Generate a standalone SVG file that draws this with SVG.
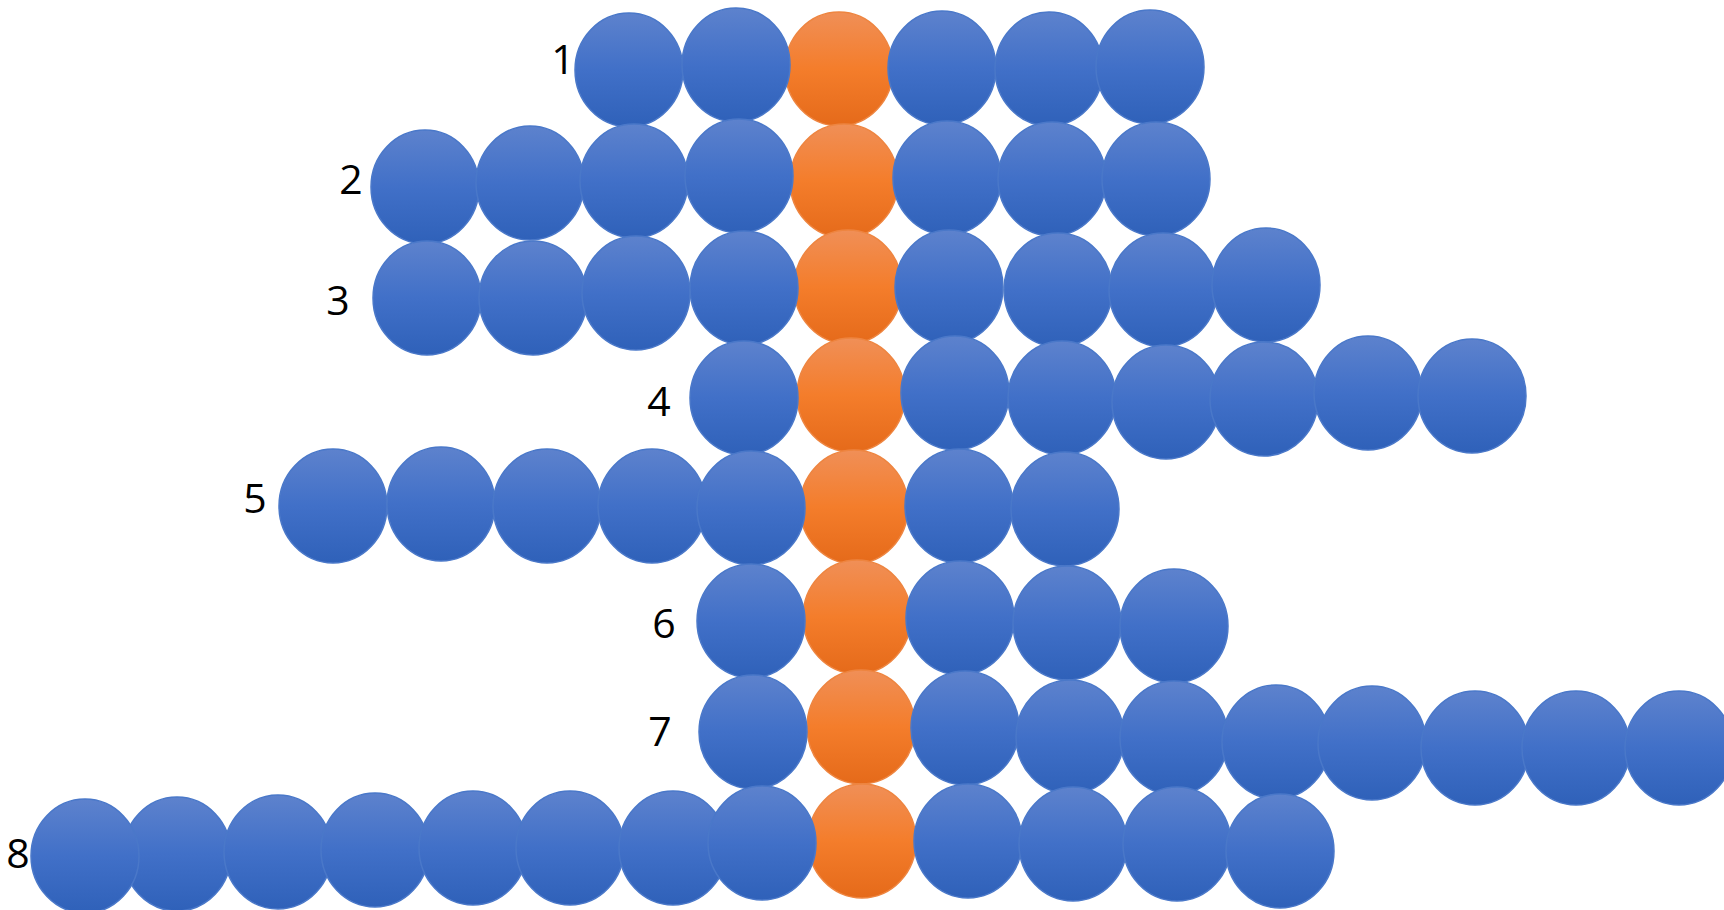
<svg xmlns="http://www.w3.org/2000/svg" width="1724" height="910" viewBox="0 0 1724 910">
<defs>
<linearGradient id="gb" x1="0" y1="0" x2="0" y2="1">
<stop offset="0" stop-color="#5d82cd"/>
<stop offset="0.5" stop-color="#4170c8"/>
<stop offset="1" stop-color="#2f61b9"/>
</linearGradient>
<linearGradient id="go" x1="0" y1="0" x2="0" y2="1">
<stop offset="0" stop-color="#f08f57"/>
<stop offset="0.5" stop-color="#f47d2b"/>
<stop offset="1" stop-color="#e56a1a"/>
</linearGradient>
</defs>
<style>
.b{fill:url(#gb);stroke:#4a78c9;stroke-width:1.5}
.o{fill:url(#go);stroke:#ee8540;stroke-width:1.5}
.t{font-family:"Open Sans","Liberation Sans",sans-serif;font-size:41px;fill:#000;text-anchor:middle}
</style>
<rect width="1724" height="910" fill="#fff"/>
<g id="row1">
<text class="t" x="563" y="74">1</text>
<ellipse class="o" cx="839" cy="69" rx="54" ry="57"/>
<ellipse class="b" cx="629" cy="70" rx="54" ry="57"/>
<ellipse class="b" cx="736" cy="65" rx="54" ry="57"/>
<ellipse class="b" cx="942" cy="68" rx="54" ry="57"/>
<ellipse class="b" cx="1049" cy="69" rx="54" ry="57"/>
<ellipse class="b" cx="1150" cy="67" rx="54" ry="57"/>
</g>
<g id="row2">
<text class="t" x="351" y="194">2</text>
<ellipse class="o" cx="844" cy="181" rx="54" ry="57"/>
<ellipse class="b" cx="425" cy="187" rx="54" ry="57"/>
<ellipse class="b" cx="530" cy="183" rx="54" ry="57"/>
<ellipse class="b" cx="634" cy="181" rx="54" ry="57"/>
<ellipse class="b" cx="739" cy="176" rx="54" ry="57"/>
<ellipse class="b" cx="947" cy="178" rx="54" ry="57"/>
<ellipse class="b" cx="1052" cy="179" rx="54" ry="57"/>
<ellipse class="b" cx="1156" cy="179" rx="54" ry="57"/>
</g>
<g id="row3">
<text class="t" x="338" y="315">3</text>
<ellipse class="o" cx="848" cy="287" rx="54" ry="57"/>
<ellipse class="b" cx="427" cy="298" rx="54" ry="57"/>
<ellipse class="b" cx="533" cy="298" rx="54" ry="57"/>
<ellipse class="b" cx="636" cy="293" rx="54" ry="57"/>
<ellipse class="b" cx="744" cy="288" rx="54" ry="57"/>
<ellipse class="b" cx="949" cy="287" rx="54" ry="57"/>
<ellipse class="b" cx="1058" cy="290" rx="54" ry="57"/>
<ellipse class="b" cx="1163" cy="290" rx="54" ry="57"/>
<ellipse class="b" cx="1266" cy="285" rx="54" ry="57"/>
</g>
<g id="row4">
<text class="t" x="659" y="416">4</text>
<ellipse class="o" cx="851" cy="395" rx="54" ry="57"/>
<ellipse class="b" cx="744" cy="398" rx="54" ry="57"/>
<ellipse class="b" cx="955" cy="393" rx="54" ry="57"/>
<ellipse class="b" cx="1062" cy="398" rx="54" ry="57"/>
<ellipse class="b" cx="1166" cy="402" rx="54" ry="57"/>
<ellipse class="b" cx="1264" cy="399" rx="54" ry="57"/>
<ellipse class="b" cx="1368" cy="393" rx="54" ry="57"/>
<ellipse class="b" cx="1472" cy="396" rx="54" ry="57"/>
</g>
<g id="row5">
<text class="t" x="255" y="513">5</text>
<ellipse class="o" cx="854" cy="507" rx="54" ry="57"/>
<ellipse class="b" cx="333" cy="506" rx="54" ry="57"/>
<ellipse class="b" cx="441" cy="504" rx="54" ry="57"/>
<ellipse class="b" cx="547" cy="506" rx="54" ry="57"/>
<ellipse class="b" cx="652" cy="506" rx="54" ry="57"/>
<ellipse class="b" cx="751" cy="508" rx="54" ry="57"/>
<ellipse class="b" cx="959" cy="506" rx="54" ry="57"/>
<ellipse class="b" cx="1065" cy="509" rx="54" ry="57"/>
</g>
<g id="row6">
<text class="t" x="664" y="638">6</text>
<ellipse class="o" cx="857" cy="617" rx="54" ry="57"/>
<ellipse class="b" cx="751" cy="621" rx="54" ry="57"/>
<ellipse class="b" cx="960" cy="618" rx="54" ry="57"/>
<ellipse class="b" cx="1067" cy="623" rx="54" ry="57"/>
<ellipse class="b" cx="1174" cy="626" rx="54" ry="57"/>
</g>
<g id="row7">
<text class="t" x="660" y="746">7</text>
<ellipse class="o" cx="861" cy="727" rx="54" ry="57"/>
<ellipse class="b" cx="753" cy="732" rx="54" ry="57"/>
<ellipse class="b" cx="965" cy="728" rx="54" ry="57"/>
<ellipse class="b" cx="1070" cy="737" rx="54" ry="57"/>
<ellipse class="b" cx="1174" cy="738" rx="54" ry="57"/>
<ellipse class="b" cx="1276" cy="742" rx="54" ry="57"/>
<ellipse class="b" cx="1372" cy="743" rx="54" ry="57"/>
<ellipse class="b" cx="1475" cy="748" rx="54" ry="57"/>
<ellipse class="b" cx="1576" cy="748" rx="54" ry="57"/>
<ellipse class="b" cx="1679" cy="748" rx="54" ry="57"/>
</g>
<g id="row8">
<text class="t" x="18" y="868">8</text>
<ellipse class="o" cx="862" cy="841" rx="54" ry="57"/>
<ellipse class="b" cx="177" cy="854" rx="54" ry="57"/>
<ellipse class="b" cx="85" cy="856" rx="54" ry="57"/>
<ellipse class="b" cx="278" cy="852" rx="54" ry="57"/>
<ellipse class="b" cx="375" cy="850" rx="54" ry="57"/>
<ellipse class="b" cx="473" cy="848" rx="54" ry="57"/>
<ellipse class="b" cx="570" cy="848" rx="54" ry="57"/>
<ellipse class="b" cx="673" cy="848" rx="54" ry="57"/>
<ellipse class="b" cx="762" cy="843" rx="54" ry="57"/>
<ellipse class="b" cx="968" cy="841" rx="54" ry="57"/>
<ellipse class="b" cx="1073" cy="844" rx="54" ry="57"/>
<ellipse class="b" cx="1177" cy="844" rx="54" ry="57"/>
<ellipse class="b" cx="1280" cy="851" rx="54" ry="57"/>
</g>
<g id="connectors"/>
</svg>
